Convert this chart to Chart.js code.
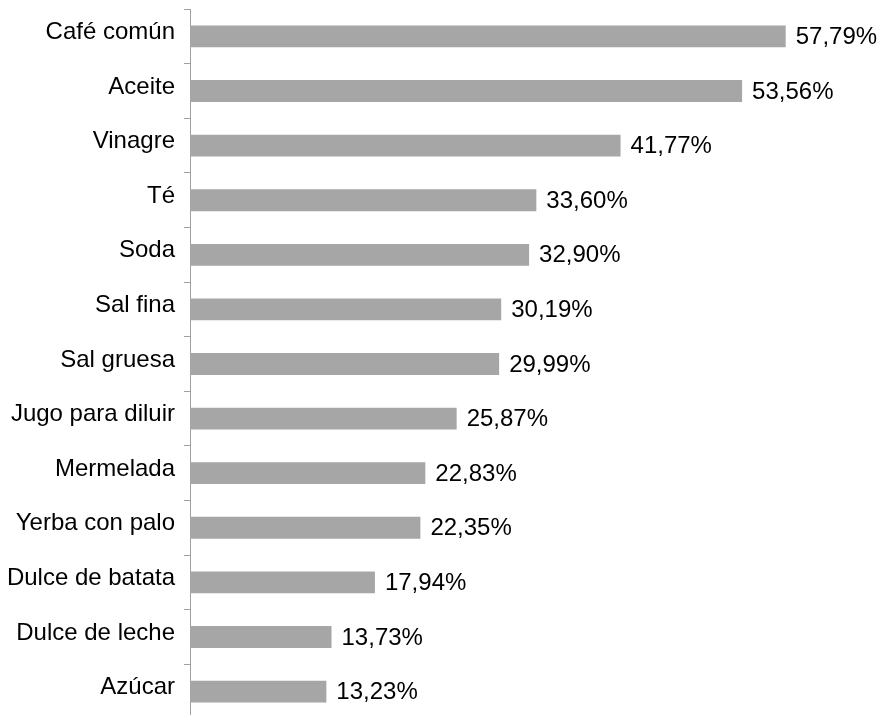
<!DOCTYPE html>
<html><head><meta charset="utf-8">
<script src="https://cdn.jsdelivr.net/npm/chart.js@4/dist/chart.umd.min.js"></script>
<style>html,body{margin:0;padding:0;background:#fff;overflow:hidden}#wrap{width:887px;height:728px;position:relative}</style>
</head><body><div id="wrap"><canvas id="c"></canvas></div>
<script>
const categories = ["Café común","Aceite","Vinagre","Té","Soda","Sal fina","Sal gruesa","Jugo para diluir","Mermelada","Yerba con palo","Dulce de batata","Dulce de leche","Azúcar"];
const values = [57.79,53.56,41.77,33.60,32.90,30.19,29.99,25.87,22.83,22.35,17.94,13.73,13.23];

const FONT = 'Arial, "Liberation Sans", sans-serif';
const labelPlugin = {
  id:'valLabels',
  afterDatasetsDraw(chart){
    const ctx = chart.ctx;
    const meta = chart.getDatasetMeta(0);
    ctx.save();
    ctx.font = '24px ' + FONT;
    ctx.fillStyle = '#000';
    ctx.textAlign = 'left';
    ctx.textBaseline = 'middle';
    meta.data.forEach((bar,i)=>{
      ctx.fillText(values[i].toFixed(2).replace('.',',')+'%', bar.x+10, bar.y+1);
    });
    ctx.restore();
  }
};

new Chart(document.getElementById('c'),{
  type:'bar',
  data:{labels:categories,datasets:[{data:values,backgroundColor:'#A6A6A6',borderWidth:0,barPercentage:0.4,categoryPercentage:1}]},
  options:{
    indexAxis:'y',responsive:true,maintainAspectRatio:false,animation:false,
    layout:{padding:{top:7,right:27,bottom:0,left:0}},
    plugins:{legend:{display:false},tooltip:{enabled:false}},
    scales:{
      x:{display:false,min:0,max:65},
      y:{
        afterFit(scale){ scale.width = 190; },
        grid:{drawOnChartArea:false,tickLength:6,color:'#A0A0A0',offset:true},
        border:{color:'#A0A0A0',width:1},
        ticks:{color:'#000',padding:9,labelOffset:-4,font:{family:FONT,size:24,lineHeight:0.01}}
      }
    }
  },
  plugins:[labelPlugin]
});
</script></body></html>
